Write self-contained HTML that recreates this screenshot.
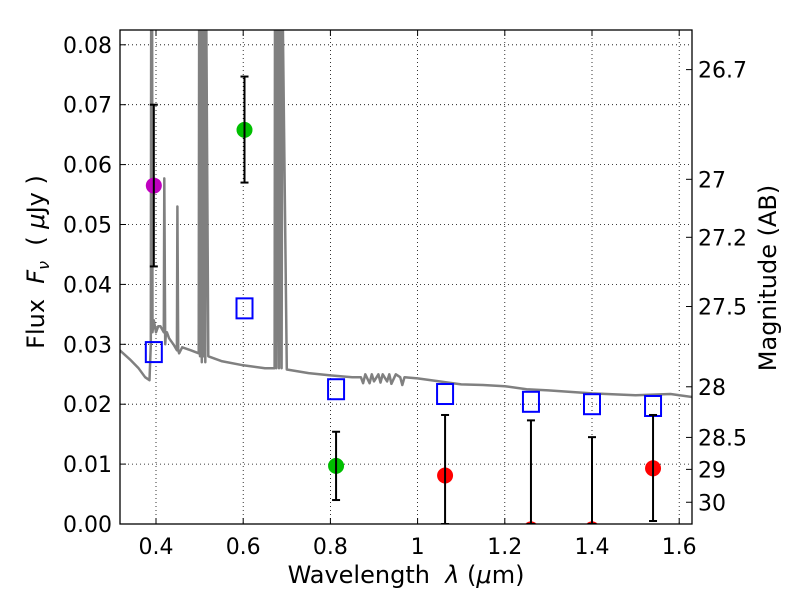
<!DOCTYPE html>
<html><head><meta charset="utf-8"><style>
body{margin:0;background:#fff;}
svg{display:block;font-family:"DejaVu Sans","Liberation Sans",sans-serif;}
</style></head><body>
<svg id="c" width="800" height="600"></svg>
<script>
const xTicks=[0.4,0.6,0.8,1.0,1.2,1.4,1.6];
const xTickLabels=["0.4","0.6","0.8","1","1.2","1.4","1.6"];
const yTicks=[0,0.01,0.02,0.03,0.04,0.05,0.06,0.07,0.08];
const yTickLabels=["0.00","0.01","0.02","0.03","0.04","0.05","0.06","0.07","0.08"];
const magTicks=[26.7,27,27.2,27.5,28,28.5,29,30];
const magTickLabels=["26.7","27","27.2","27.5","28","28.5","29","30"];
const obsWave=[0.395,0.603,0.813,1.063,1.26,1.40,1.54];
const obsFlux=[0.0565,0.0658,0.0097,0.0081,-0.0009,-0.0009,0.0093];
const obsLo=[0.043,0.057,0.004,0,0,0,0.0005];
const obsHi=[0.070,0.0747,0.0154,0.0182,0.0173,0.0145,0.0182];
const obsColor=["#bf00bf","#00bf00","#00bf00","#ff0000","#ff0000","#ff0000","#ff0000"];
const modelFlux=[0.0287,0.036,0.0225,0.0217,0.0204,0.0200,0.0197];
const specWave=[0.317,0.34,0.36,0.375,0.385,0.388,0.389,0.391,0.392,0.395,0.40,0.405,0.41,0.418,0.419,0.421,0.423,0.425,0.43,0.44,0.448,0.449,0.451,0.453,0.46,0.48,0.498,0.499,0.501,0.503,0.505,0.507,0.509,0.511,0.513,0.515,0.52,0.55,0.6,0.65,0.672,0.673,0.676,0.679,0.682,0.685,0.688,0.69,0.70,0.75,0.80,0.85,0.87,0.875,0.88,0.89,0.895,0.90,0.91,0.915,0.92,0.93,0.935,0.94,0.95,0.96,0.965,0.97,1.0,1.05,1.1,1.15,1.2,1.25,1.3,1.4,1.5,1.58,1.63];
const specFlux=[0.0290,0.0275,0.026,0.0245,0.024,0.03,0.09,0.09,0.032,0.034,0.032,0.033,0.033,0.032,0.0577,0.03,0.032,0.032,0.031,0.03,0.029,0.053,0.029,0.0285,0.0295,0.029,0.0285,0.09,0.028,0.09,0.027,0.09,0.028,0.09,0.027,0.09,0.028,0.0272,0.0265,0.026,0.026,0.09,0.026,0.09,0.026,0.09,0.026,0.09,0.0258,0.0252,0.0248,0.0245,0.0245,0.0235,0.025,0.0235,0.025,0.0238,0.025,0.0236,0.025,0.0238,0.025,0.0234,0.025,0.0245,0.0232,0.0245,0.0243,0.0238,0.0233,0.0232,0.023,0.0225,0.0223,0.0218,0.0215,0.0217,0.0212];

const L=120,R=692,T=30,B=524;
const X=v=>156+(v-0.4)*436;
const Y=v=>524-v*5990;
const magY=m=>Y(Math.pow(10,(23.9-m)/2.5));
const NS="http://www.w3.org/2000/svg";
const svg=document.getElementById('c');
function mk(tag,attrs,parent){const e=document.createElementNS(NS,tag);for(const k in attrs)e.setAttribute(k,attrs[k]);(parent||svg).appendChild(e);return e;}

const defs=mk('defs',{});
const cp=mk('clipPath',{id:'clip'},defs);
mk('rect',{x:L,y:T,width:R-L,height:B-T},cp);

xTicks.forEach(t=>{const g=mk('line',{x1:X(t),x2:X(t),y1:T,y2:B,stroke:'#000','stroke-width':0.8,'stroke-dasharray':'1,3'});

});
yTicks.forEach(t=>{const g=mk('line',{x1:L,x2:R,y1:Y(t),y2:Y(t),stroke:'#000','stroke-width':0.8,'stroke-dasharray':'1,3'});

});

const plot=mk('g',{'clip-path':'url(#clip)'});



let d='';specWave.forEach((w,i)=>{d+=(i?'L':'M')+X(w).toFixed(1)+','+Y(specFlux[i]).toFixed(1);});
const sp=mk('path',{d:d,fill:'none',stroke:'#808080','stroke-width':2.5,'stroke-linejoin':'round'},plot);



obsWave.forEach((w,i)=>{const s=mk('rect',{x:X(w)-8,y:Y(modelFlux[i])-10,width:16,height:20,fill:'none',stroke:'#0000ff','stroke-width':2},plot);

});

obsWave.forEach((w,i)=>{const x=X(w);
const c=mk('circle',{cx:x,cy:Y(obsFlux[i]),r:8,fill:obsColor[i]},plot);


const eb=mk('g',{stroke:'#000','stroke-width':2},plot);


mk('line',{x1:x,x2:x,y1:Y(obsLo[i]),y2:Y(obsHi[i])},eb);
mk('line',{x1:x-4,x2:x+4,y1:Y(obsLo[i]),y2:Y(obsLo[i])},eb);
mk('line',{x1:x-4,x2:x+4,y1:Y(obsHi[i]),y2:Y(obsHi[i])},eb);});

const fr=mk('rect',{x:L,y:T,width:R-L,height:B-T,fill:'none',stroke:'#000','stroke-width':1.3});



xTicks.forEach((t,i)=>{mk('line',{x1:X(t),x2:X(t),y1:B,y2:B-6,stroke:'#000'});mk('line',{x1:X(t),x2:X(t),y1:T,y2:T+6,stroke:'#000'});
const tx=mk('text',{x:X(t),y:554,'font-size':22,'text-anchor':'middle'});tx.textContent=xTickLabels[i];

});
yTicks.forEach((t,i)=>{mk('line',{x1:L,x2:L+6,y1:Y(t),y2:Y(t),stroke:'#000'});
const tx=mk('text',{x:112,y:Y(t)+8,'font-size':22,'text-anchor':'end'});tx.textContent=yTickLabels[i];

});
magTicks.forEach((m,i)=>{const y=magY(m);mk('line',{x1:R,x2:R-6,y1:y,y2:y,stroke:'#000'});
const tx=mk('text',{x:698,y:y+8,'font-size':22});tx.textContent=magTickLabels[i];

});

let t=mk('text',{x:406,y:583,'font-size':24,'text-anchor':'middle'});
t.innerHTML='Wavelength &#160;<tspan font-style="italic">λ</tspan> (<tspan font-style="italic">μ</tspan>m)';


t=mk('text',{x:0,y:0,'font-size':24,'text-anchor':'middle',transform:'translate(44,262) rotate(-90)'});
t.innerHTML='Flux &#160;<tspan font-style="italic">F</tspan><tspan font-style="italic" font-size="16" dy="5">ν</tspan><tspan dy="-5"> &#160;( </tspan><tspan font-style="italic">μ</tspan>Jy )';


t=mk('text',{x:0,y:0,'font-size':24,'text-anchor':'middle',transform:'translate(776,278) rotate(-90)'});
t.textContent='Magnitude (AB)';


</script>
</body></html>
